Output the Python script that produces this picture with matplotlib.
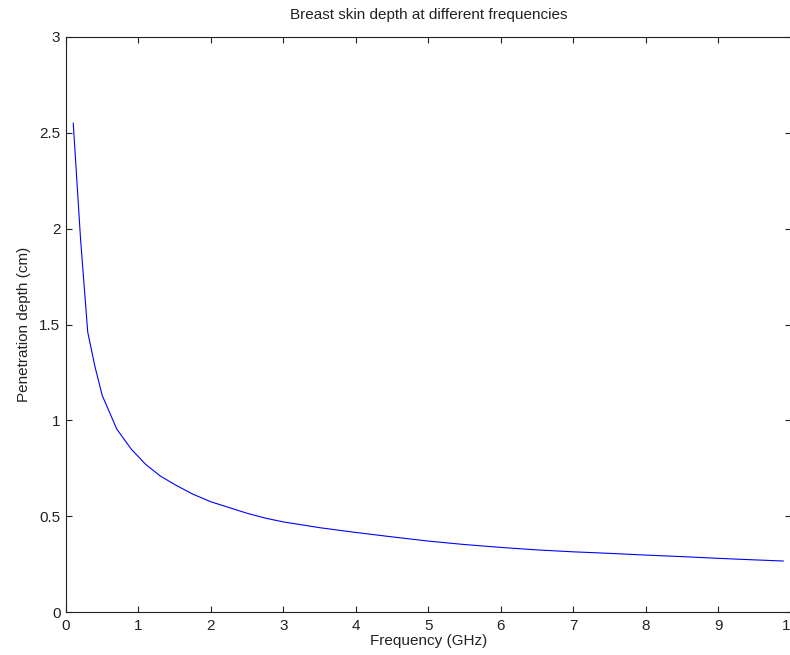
import numpy as np
import matplotlib as mpl
mpl.use('Agg')
import matplotlib.pyplot as plt

mpl.rcParams.update({'font.family': 'Liberation Sans', 'font.size': 11})

freq_ghz = [0.1, 0.2, 0.3, 0.4, 0.5, 0.7, 0.9, 1.1, 1.3, 1.5, 1.75, 2.0, 2.25, 2.5,
            2.75, 3.0, 3.5, 4.0, 4.5, 5.0, 5.5, 6.0, 6.5, 7.0, 7.5, 8.0, 8.5,
            9.0, 9.5, 9.9]
depth_cm = [2.55, 1.95, 1.46, 1.28, 1.13, 0.955, 0.85, 0.77, 0.71, 0.665, 0.615,
            0.575, 0.545, 0.515, 0.49, 0.47, 0.44, 0.415, 0.392, 0.37, 0.352,
            0.337, 0.324, 0.314, 0.306, 0.297, 0.289, 0.28, 0.272, 0.266]

xticks = list(range(0, 11))
yticks = [0, 0.5, 1, 1.5, 2, 2.5, 3]
yticklabels = ["0", "0.5", "1", "1.5", "2", "2.5", "3"]

fig = plt.figure(figsize=(7.9, 6.55), dpi=100)
W, H = 790.0, 655.0
# right edge of the axes sits just past the image edge, like the reference
ax = fig.add_axes([66 / W, (H - 612) / H, (790.5 - 66) / W, (612 - 37) / H])

ax.plot(freq_ghz, depth_cm, color=(0, 0, 1), lw=0.8)

ax.set_xlim(0, 10)
ax.set_ylim(0, 3)
ax.set_xticks(xticks)
ax.set_yticks(yticks)
ax.set_yticklabels(yticklabels)
ax.tick_params(direction='in', top=True, right=True, length=4.5, width=0.8,
               labelsize=11, colors='#222222')
ax.tick_params(axis='x', pad=5)
ax.tick_params(axis='y', pad=4)
for s in ax.spines.values():
    s.set_linewidth(0.8)
    s.set_color('#222222')

ax.set_title("Breast skin depth at different frequencies", fontsize=11, pad=13,
             color='#222222')
ax.set_xlabel("Frequency (GHz)", fontsize=11, labelpad=1, color='#222222')
ax.set_ylabel("Penetration depth (cm)", fontsize=11, labelpad=6, color='#222222')

fig.savefig("out.png", dpi=100)
